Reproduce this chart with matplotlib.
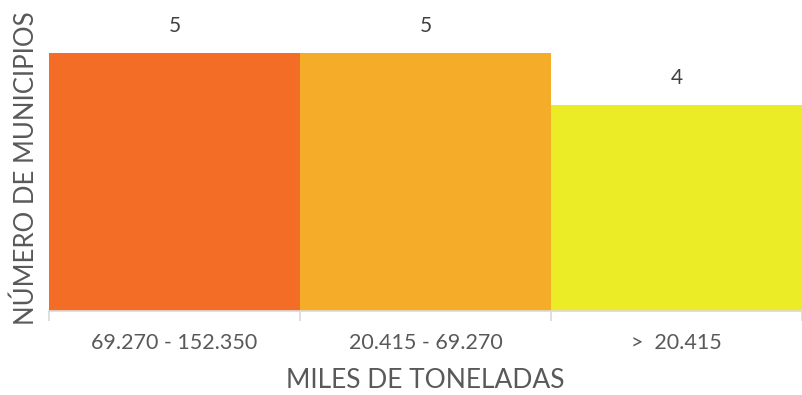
import matplotlib.pyplot as plt

categories = ['69.270 - 152.350', '20.415 - 69.270', '>  20.415']
values = [5, 5, 4]
colors = ['#F46D26', '#F5AD29', '#ECEC26']

plt.rcParams['font.family'] = ['Lato', 'DejaVu Sans']

fig = plt.figure(figsize=(8.02, 3.95), dpi=100)
ax = fig.add_axes([49 / 802, 84 / 395, 753 / 802, 311 / 395])

x = list(range(len(categories)))
ax.bar(x, values, width=1.0, color=colors, edgecolor='none')

for xi, v in zip(x, values):
    ax.annotate(str(v), (xi, v), xytext=(0, 12), textcoords='offset points',
                ha='center', va='bottom', fontsize=15, color='#404040')

ax.set_xlim(-0.5, 2.5)
ax.set_ylim(0, 6.03)
ax.set_xticks(x)
ax.set_xticklabels(categories, fontsize=15.5, color='#595959')
ax.set_xticks([-0.5, 0.5, 1.5, 2.5], minor=True)
ax.tick_params(axis='x', which='major', length=0, pad=16)
ax.tick_params(axis='x', which='minor', length=7, color='#d9d9d9', width=1.2)
ax.set_yticks([])

for side in ['top', 'right', 'left']:
    ax.spines[side].set_visible(False)
ax.spines['bottom'].set_color('#d9d9d9')
ax.spines['bottom'].set_linewidth(1.2)

ax.set_xlabel('MILES DE TONELADAS', fontsize=19, color='#595959', labelpad=11)
ax.set_ylabel('NÚMERO DE MUNICIPIOS', fontsize=18.5, color='#595959')
ax.yaxis.set_label_coords(-0.013, 0.46)

fig.savefig('out.png', dpi=100)
